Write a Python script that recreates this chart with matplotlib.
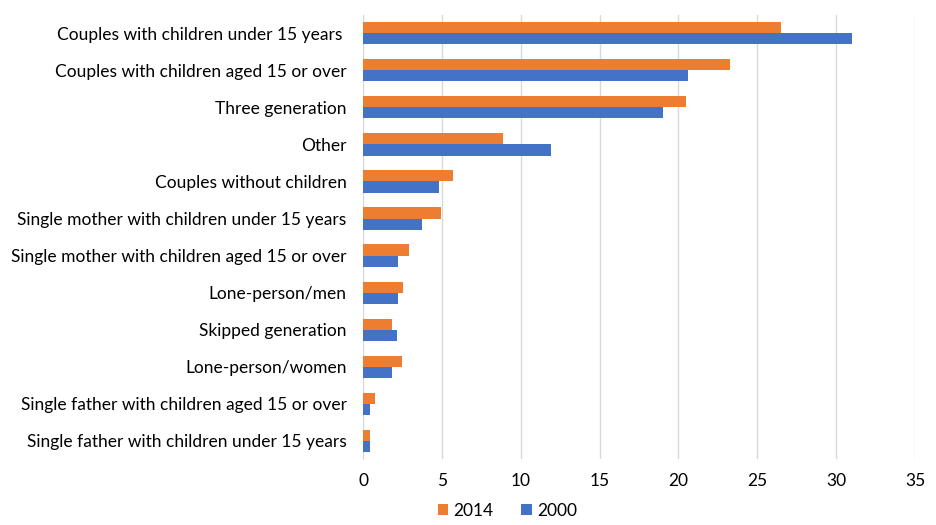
import matplotlib.pyplot as plt
import numpy as np

plt.rcParams['font.family'] = ['Lato', 'DejaVu Sans']

categories = [
    "Couples with children under 15 years ",
    "Couples with children aged 15 or over",
    "Three generation",
    "Other",
    "Couples without children",
    "Single mother with children under 15 years",
    "Single mother with children aged 15 or over",
    "Lone-person/men",
    "Skipped generation",
    "Lone-person/women",
    "Single father with children aged 15 or over",
    "Single father with children under 15 years",
]
values_2014 = [26.5, 23.25, 20.5, 8.85, 5.7, 4.95, 2.93, 2.54, 1.8, 2.45, 0.74, 0.41]
values_2000 = [31.0, 20.6, 19.05, 11.9, 4.8, 3.75, 2.2, 2.2, 2.12, 1.8, 0.41, 0.43]

orange = "#ED7D31"
blue = "#4472C4"

fig = plt.figure(figsize=(9.36, 5.25), dpi=100)
ax = fig.add_axes([0.388, 0.125, 0.5895, 0.847])

y = np.arange(len(categories))
h = 0.3
ax.barh(y - h / 2, values_2014, height=h, color=orange, label="2014", zorder=3)
ax.barh(y + h / 2, values_2000, height=h, color=blue, label="2000", zorder=3)

ax.set_yticks(y)
ax.set_yticklabels(categories, fontsize=12.5)
ax.set_ylim(len(categories) - 0.5, -0.5)
ax.set_xlim(0, 35)
ax.set_xticks(np.arange(0, 36, 5))
ax.tick_params(axis='x', labelsize=12.5, length=0, pad=10)
ax.tick_params(axis='y', length=0, pad=12)

ax.grid(axis='x', color="#D9D9D9", linewidth=1, zorder=0)
for s in ['top', 'right', 'bottom']:
    ax.spines[s].set_visible(False)
ax.spines['left'].set_color("#D9D9D9")

fig.legend(loc='lower center', bbox_to_anchor=(0.542, -0.018), ncol=2, frameon=False,
           fontsize=12.5, handlelength=0.6, handleheight=0.6, columnspacing=1.6,
           handletextpad=0.3)

fig.savefig("out.png", dpi=100)
